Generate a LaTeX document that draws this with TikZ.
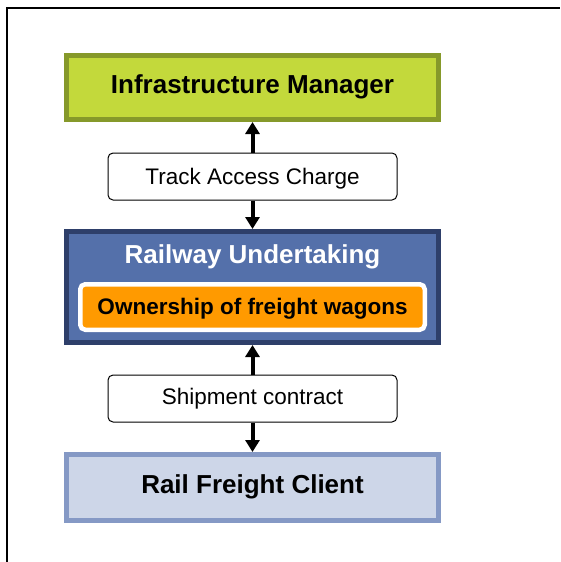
\documentclass[tikz,border=0pt]{standalone}
\usepackage{fontspec}
\setmainfont{Liberation Sans}
\usetikzlibrary{arrows.meta}
\definecolor{imfill}{HTML}{C3D93B}
\definecolor{imdraw}{HTML}{86992A}
\definecolor{rufill}{HTML}{5470AA}
\definecolor{rudraw}{HTML}{2E3F6A}
\definecolor{ownfill}{HTML}{FF9A00}
\definecolor{rcfill}{HTML}{CDD6E8}
\definecolor{rcdraw}{HTML}{8599C5}
\tikzset{
  bigbox/.style={rectangle, line width=5pt, minimum width=372pt, inner sep=0pt},
  labelbox/.style={rectangle, draw=black, line width=1pt, rounded corners=5pt, fill=white, minimum width=289pt, minimum height=47pt, inner sep=0pt},
  bigtext/.style={anchor=base, inner sep=0pt, font=\fontsize{26}{30}\selectfont\bfseries},
  smalltext/.style={anchor=base, inner sep=0pt, font=\fontsize{22.5}{27}\selectfont},
  medbold/.style={anchor=base, inner sep=0pt, font=\fontsize{22.5}{27}\selectfont\bfseries},
  flow/.style={line width=4pt, -{Triangle[width=14pt,length=12pt]}},
}
\begin{document}
\begin{tikzpicture}[x=1pt,y=-1pt]
\useasboundingbox (0,0) rectangle (560,562);
\fill[white] (0,0) rectangle (560,562);
\draw[line width=2pt] (7,562) -- (7,7.5) -- (560,7.5);
% boxes
\node[bigbox, draw=imdraw, fill=imfill, minimum height=64pt] (im) at (252.5,87.5) {};
\node[labelbox] (tac) at (252.5,176.5) {};
\node[bigbox, draw=rudraw, fill=rufill, minimum height=111pt] (ru) at (252.5,287) {};
\node[rectangle, draw=white, line width=4.5pt, fill=ownfill, rounded corners=5pt, minimum width=344.5pt, minimum height=45.5pt, inner sep=0pt] (own) at (252.5,307) {};
\node[labelbox] (sc) at (252.5,398.5) {};
\node[bigbox, draw=rcdraw, fill=rcfill, minimum height=66pt] (rc) at (252.5,487.5) {};
% texts
\node[bigtext] (imt) at (252.5,93) {Infrastructure Manager};
\node[smalltext] (tact) at (252.5,184) {Track Access Charge};
\node[bigtext, text=white] (rut) at (252.5,263) {Railway Undertaking};
\node[medbold] (ownt) at (252.5,314) {Ownership of freight wagons};
\node[smalltext] (sct) at (252.5,404) {Shipment contract};
\node[bigtext] (rct) at (252.5,493) {Rail Freight Client};
% arrows
\draw[flow] (tac.north) -- (im.south);
\draw[flow] (tac.south) -- (ru.north);
\draw[flow] (sc.north) -- (ru.south);
\draw[flow] (sc.south) -- (rc.north);
\end{tikzpicture}
\end{document}
